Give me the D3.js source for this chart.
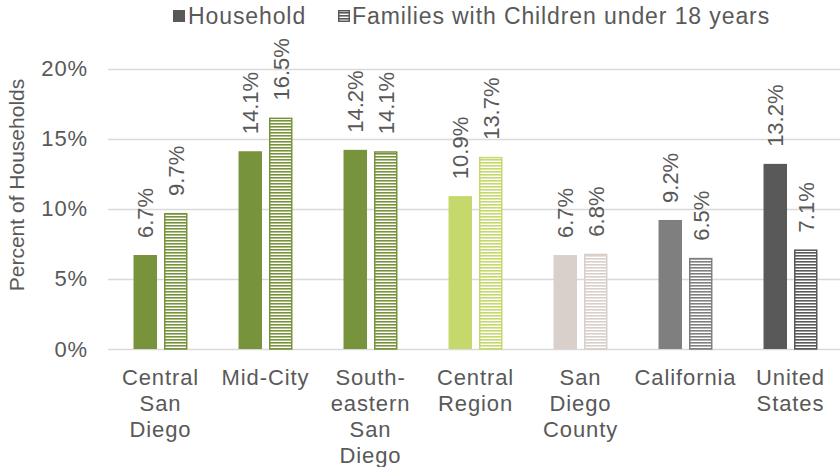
<!DOCTYPE html>
<html>
<head>
<meta charset="utf-8">
<script src="https://cdn.jsdelivr.net/npm/d3@7"></script>
<style>
  html, body { margin: 0; padding: 0; background: #fff; }
  svg { display: block; }
  text { font-family: "Liberation Sans", Arial, sans-serif; fill: #595959; }
</style>
</head>
<body>
<svg id="chart" width="840" height="467"></svg>
<script>
// ---- data ----
const categories = ["Central San Diego", "Mid-City", "Southeastern San Diego", "Central Region", "San Diego County", "California", "United States"];
const categoryLines = [["Central", "San", "Diego"], ["Mid-City"], ["South-", "eastern", "San", "Diego"], ["Central", "Region"], ["San", "Diego", "County"], ["California"], ["United", "States"]];
const seriesNames = ["Household", "Families with Children under 18 years"];
const household = [6.7, 14.1, 14.2, 10.9, 6.7, 9.2, 13.2];
const families = [9.7, 16.5, 14.1, 13.7, 6.8, 6.5, 7.1];
const barColors = ["#77933c", "#77933c", "#77933c", "#c4d86c", "#d9d0cb", "#7f7f7f", "#595959"];
const yTicks = [0, 5, 10, 15, 20];
const yTickLabels = ["0%", "5%", "10%", "15%", "20%"];
const valueLabels = [
  ["6.7%", "14.1%", "14.2%", "10.9%", "6.7%", "9.2%", "13.2%"],
  ["9.7%", "16.5%", "14.1%", "13.7%", "6.8%", "6.5%", "7.1%"]
];

// ---- layout ----
const svg = d3.select("#chart");
const plotLeft = 108, plotRight = 843, plotTop = 68.5, plotBottom = 349;
const hSpacing = "0.9px";

const x0 = d3.scaleBand().domain(categories).range([plotLeft, plotRight]).paddingInner(0.486).paddingOuter(0.243);
const x1 = d3.scaleBand().domain([0, 1]).range([0, x0.bandwidth()]).paddingInner(0.23);
const y = d3.scaleLinear().domain([0, 20]).range([plotBottom, plotTop]);

// patterns
const defs = svg.append("defs");
const uniqueColors = Array.from(new Set(barColors.concat(["#595959"])));
uniqueColors.forEach(c => {
  const p = defs.append("pattern")
    .attr("id", "stripe" + c.slice(1))
    .attr("patternUnits", "userSpaceOnUse")
    .attr("width", 8).attr("height", 3);
  p.append("rect").attr("width", 8).attr("height", 3).attr("fill", "#fff");
  p.append("rect").attr("y", 0).attr("width", 8).attr("height", 1.6).attr("fill", c);
});

// gridlines
svg.append("g").selectAll("line").data(yTicks).join("line")
  .attr("x1", plotLeft).attr("x2", 840)
  .attr("y1", d => Math.round(y(d)) + 0.5).attr("y2", d => Math.round(y(d)) + 0.5)
  .attr("stroke", "#d9d9d9").attr("stroke-width", 1.5);

// y axis via d3.axisLeft (styled)
const yAxis = d3.axisLeft(y).tickValues(yTicks).tickFormat((d, i) => yTickLabels[i]).tickSize(0).tickPadding(20);
const yg = svg.append("g").attr("transform", `translate(${plotLeft},0)`).call(yAxis);
yg.select(".domain").remove();
yg.selectAll("text").attr("font-size", 22).attr("fill", "#595959")
  .style("font-family", '"Liberation Sans", Arial, sans-serif').style("letter-spacing", hSpacing);

// y axis title
svg.append("text")
  .attr("transform", `translate(17,185) rotate(-90)`)
  .attr("text-anchor", "middle").attr("dy", "0.35em")
  .attr("font-size", 21)
  .text("Percent of Households");

// bars
const groups = svg.append("g").selectAll("g").data(categories).join("g")
  .attr("transform", d => `translate(${x0(d)},0)`);

groups.append("rect")
  .attr("x", x1(0)).attr("width", x1.bandwidth())
  .attr("y", (d, i) => y(household[i])).attr("height", (d, i) => y(0) - y(household[i]))
  .attr("fill", (d, i) => barColors[i]);

groups.append("rect")
  .attr("x", x1(1) + 0.75).attr("width", x1.bandwidth() - 1.5)
  .attr("y", (d, i) => y(families[i]) + 0.75).attr("height", (d, i) => y(0) - y(families[i]) - 0.75)
  .attr("fill", (d, i) => `url(#stripe${barColors[i].slice(1)})`)
  .attr("stroke", (d, i) => barColors[i]).attr("stroke-width", 1.5);

// value labels
[household, families].forEach((vals, s) => {
  groups.append("text")
    .attr("transform", (d, i) => `translate(${x1(s) + x1.bandwidth() / 2},${y(vals[i]) - 17}) rotate(-90)`)
    .attr("dy", "0.36em")
    .attr("font-size", 22)
    .text((d, i) => valueLabels[s][i]);
});

// x labels
const xl = groups.append("text")
  .attr("text-anchor", "middle")
  .attr("font-size", 22)
  .style("letter-spacing", hSpacing)
  .attr("x", x0.bandwidth() / 2)
  .attr("y", 385);
xl.selectAll("tspan").data((d, i) => categoryLines[i]).join("tspan")
  .attr("x", x0.bandwidth() / 2)
  .attr("dy", (d, j) => j === 0 ? 0 : 26)
  .text(d => d);

// legend
const legend = svg.append("g");
legend.append("rect").attr("x", 173).attr("y", 10).attr("width", 12).attr("height", 12).attr("fill", "#595959");
legend.append("text").attr("x", 188).attr("y", 24).attr("font-size", 23).style("letter-spacing", hSpacing).text(seriesNames[0]);
legend.append("rect").attr("x", 338.75).attr("y", 10.75).attr("width", 10.5).attr("height", 10.5)
  .attr("fill", "url(#stripe595959)").attr("stroke", "#595959").attr("stroke-width", 1.5);
legend.append("text").attr("x", 352).attr("y", 24).attr("font-size", 23).style("letter-spacing", hSpacing).text(seriesNames[1]);
</script>
</body>
</html>
